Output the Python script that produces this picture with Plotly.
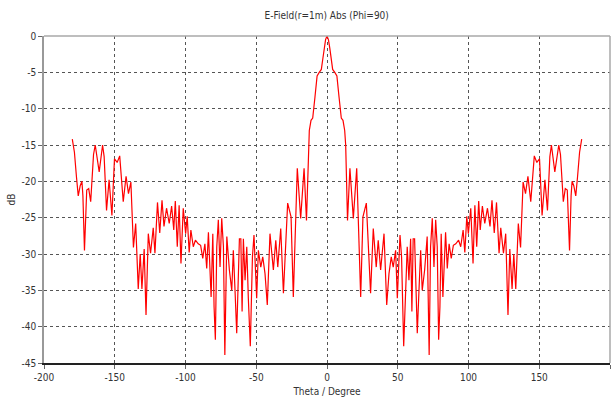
import plotly.graph_objects as go

# Readings, left half (theta <= 0)
theta_left = [-180.0, -178.5, -177.0, -175.8, -174.4, -173.2, -172.5, -171.4, -169.8, -168.4,
              -167.0, -165.0, -163.8, -161.0, -158.6, -157.5, -155.8, -154.0, -152.0, -150.2,
              -148.3, -146.5, -144.0, -142.0, -140.3, -138.6, -136.8, -135.2, -133.4, -132.0,
              -130.8, -129.2, -127.9, -126.3, -124.7, -122.8, -121.6, -119.8, -118.2, -116.6,
              -115.2, -113.4, -111.5, -109.8, -108.3, -107.2, -105.8, -104.5, -103.2, -101.6,
              -99.9, -98.8, -97.4, -96.2, -94.5, -93.0, -91.0, -89.3, -87.8, -86.3,
              -85.0, -83.8, -81.9, -80.7, -79.8, -78.9, -77.9, -76.8, -75.6, -74.4,
              -73.2, -72.2, -70.8, -69.0, -67.3, -66.2, -65.0, -63.8, -61.9, -60.9,
              -60.0, -59.1, -57.9, -56.7, -55.6, -54.2, -52.7, -51.6, -49.7, -48.5,
              -46.8, -45.4, -43.8, -42.2, -40.3, -37.9, -36.2, -34.8, -32.7, -30.8,
              -27.8, -25.4, -23.8, -21.0, -18.6, -16.2, -14.5, -13.2, -12.5, -11.3,
              -10.1, -8.5, -7.0, -5.5, -4.0, -3.0, -2.0, -1.0, 0.0]
db_left = [-14.2, -16.0, -19.5, -22.0, -20.6, -20.0, -22.0, -29.5, -21.2, -21.0,
           -22.8, -16.3, -15.0, -18.7, -15.0, -16.6, -24.0, -19.8, -24.7, -16.9,
           -17.4, -16.5, -22.8, -19.3, -21.7, -20.1, -29.1, -25.8, -34.8, -30.0,
           -34.8, -29.3, -38.4, -27.2, -29.9, -26.4, -29.9, -22.9, -27.1, -22.6,
           -26.2, -23.7, -25.8, -23.4, -26.7, -22.7, -29.0, -23.3, -31.3, -23.7,
           -27.2, -24.8, -29.8, -26.7, -29.0, -28.1, -28.6, -28.8, -30.6, -28.6,
           -32.0, -27.0, -35.9, -27.2, -37.3, -41.8, -29.0, -25.3, -31.8, -25.1,
           -29.0, -43.9, -27.6, -32.2, -35.0, -29.5, -35.0, -40.9, -27.9, -27.9,
           -37.9, -27.9, -33.6, -29.0, -36.1, -42.7, -30.4, -27.4, -36.1, -29.5,
           -31.8, -30.4, -32.7, -37.0, -27.2, -32.2, -28.1, -31.8, -26.5, -35.4,
           -23.0, -24.9, -35.9, -18.2, -25.1, -18.2, -25.4, -15.0, -13.0, -11.6,
           -11.3, -8.4, -5.5, -5.0, -4.6, -3.2, -1.7, -0.5, 0.0]

# Readings, right half (theta > 0)
theta_right = [1.0, 2.0, 3.0, 4.0, 5.5, 7.0, 8.5, 10.1, 11.3, 12.5,
               13.2, 14.5, 16.2, 18.6, 21.0, 23.8, 25.4, 27.8, 30.8, 32.7,
               34.8, 36.2, 37.9, 40.3, 42.2, 43.8, 45.4, 46.8, 48.5, 49.7,
               51.6, 52.7, 54.2, 55.6, 56.7, 57.9, 59.1, 60.0, 60.9, 61.9,
               63.8, 65.0, 66.2, 67.3, 69.0, 70.8, 72.2, 73.2, 74.4, 75.6,
               76.8, 77.9, 78.9, 79.8, 80.7, 81.9, 83.8, 85.0, 86.3, 87.8,
               89.3, 91.0, 93.0, 94.5, 96.2, 97.4, 98.8, 99.9, 101.6, 103.2,
               104.5, 105.8, 107.2, 108.3, 109.8, 111.5, 113.4, 115.2, 116.6, 118.2,
               119.8, 121.6, 122.8, 124.7, 126.3, 127.9, 129.2, 130.8, 132.0, 133.4,
               135.2, 136.8, 138.6, 140.3, 142.0, 144.0, 146.5, 148.3, 150.2, 152.0,
               154.0, 155.8, 157.5, 158.6, 161.0, 163.8, 165.0, 167.0, 168.4, 169.8,
               171.4, 172.5, 173.2, 174.4, 175.8, 177.0, 178.5, 180.0]
db_right = [-0.5, -1.7, -3.2, -4.6, -5.0, -5.5, -8.4, -11.3, -11.6, -13.0,
            -15.0, -25.4, -18.2, -25.1, -18.2, -35.9, -24.9, -23.0, -35.4, -26.5,
            -31.8, -28.1, -32.2, -27.2, -37.0, -32.7, -30.4, -31.8, -29.5, -36.1,
            -27.4, -30.4, -42.7, -36.1, -29.0, -33.6, -27.9, -37.9, -27.9, -27.9,
            -40.9, -35.0, -29.5, -35.0, -32.2, -27.6, -43.9, -29.0, -25.1, -31.8,
            -25.3, -29.0, -41.8, -37.3, -27.2, -35.9, -27.0, -32.0, -28.6, -30.6,
            -28.8, -28.6, -28.1, -29.0, -26.7, -29.8, -24.8, -27.2, -23.7, -31.3,
            -23.3, -29.0, -22.7, -26.7, -23.4, -25.8, -23.7, -26.2, -22.6, -27.1,
            -22.9, -29.9, -26.4, -29.9, -27.2, -38.4, -29.3, -34.8, -30.0, -34.8,
            -25.8, -29.1, -20.1, -21.7, -19.3, -22.8, -16.5, -17.4, -16.9, -24.7,
            -19.8, -24.0, -16.6, -15.0, -18.7, -15.0, -16.3, -22.8, -21.0, -21.2,
            -29.5, -22.0, -20.0, -20.6, -22.0, -19.5, -16.0, -14.2]

x_ticks = [-200, -150, -100, -50, 0, 50, 100, 150, 200]
y_ticks = [0, -5, -10, -15, -20, -25, -30, -35, -40, -45]

theta = theta_left + theta_right
db = db_left + db_right

font_family = "DejaVu Sans Condensed, Liberation Sans Narrow, DejaVu Sans, Arial"

fig = go.Figure()
fig.add_trace(go.Scatter(x=theta, y=db, mode="lines",
                         line=dict(color="#ff0000", width=1.2), showlegend=False))

fig.update_layout(
    width=613, height=406,
    margin=dict(l=44, r=3, t=36, b=43, autoexpand=False),
    paper_bgcolor="white", plot_bgcolor="white",
    font=dict(family=font_family, size=10, color="#333333"),
    title=dict(text="E-Field(r=1m) Abs (Phi=90)", x=0.533, xanchor="center",
               y=0.963, yanchor="middle", font=dict(size=10, color="#333333")),
    shapes=[
        dict(type="line", xref="paper", yref="paper", x0=0, x1=1, y0=1, y1=1,
             line=dict(color="#a8a8a8", width=1.5)),
        dict(type="line", xref="paper", yref="paper", x0=1, x1=1, y0=0, y1=1,
             line=dict(color="#a8a8a8", width=1.5)),
    ],
)
fig.update_xaxes(range=[-200, 200], tickvals=x_ticks, ticktext=[str(v) for v in x_ticks],
                 showgrid=True, gridcolor="#555555", griddash="dot", gridwidth=1,
                 zeroline=False, showline=True, linecolor="#222222", linewidth=1.5,
                 ticks="outside", ticklen=4, tickcolor="#666666",
                 title=dict(text="Theta / Degree", standoff=6, font=dict(size=10)))
fig.update_yaxes(range=[-45, 0], tickvals=y_ticks, ticktext=[str(v) for v in y_ticks],
                 showgrid=True, gridcolor="#555555", griddash="dot", gridwidth=1,
                 zeroline=False, showline=True, linecolor="#999999", linewidth=1.5,
                 ticks="outside", ticklen=4, tickcolor="#666666",
                 title=dict(text="dB", standoff=4, font=dict(size=10)))

fig.write_html("out.html", config={"displayModeBar": False},
               post_script="document.body.style.margin='0';")
